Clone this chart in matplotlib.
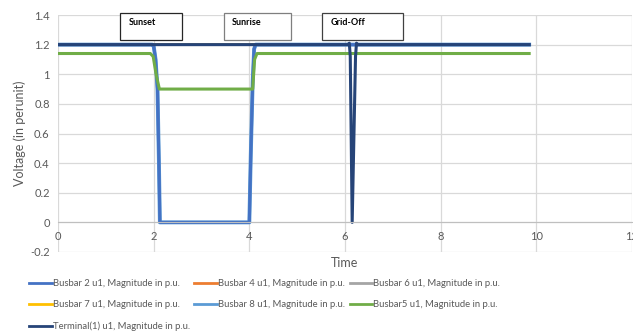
import matplotlib
matplotlib.use('Agg')
import matplotlib.pyplot as plt
from matplotlib.patches import Rectangle
from matplotlib.ticker import FuncFormatter

plt.rcParams['font.family'] = ['Lato', 'DejaVu Sans']

# series (time, voltage p.u.)
t_flat = [0, 9.85]
v_flat = [1.2, 1.2]

t_bus2 = [0, 1.97, 2.0, 2.04, 2.08, 2.11, 2.13, 4.0, 4.03, 4.07, 4.1, 4.13, 9.85]
v_bus2 = [1.2, 1.2, 1.19, 1.1, 0.9, 0.4, 0.0, 0.0, 0.45, 0.95, 1.17, 1.2, 1.2]

t_bus5 = [0, 1.93, 1.99, 2.05, 2.12, 4.07, 4.11, 4.16, 9.85]
v_bus5 = [1.14, 1.14, 1.12, 1.0, 0.9, 0.9, 1.1, 1.14, 1.14]

t_term = [0, 6.06, 6.09, 6.11, 6.15, 6.22, 6.24, 6.27, 9.85]
v_term = [1.2, 1.2, 1.21, 1.12, 0.0, 1.12, 1.21, 1.2, 1.2]

labels = ['Busbar 2 u1, Magnitude in p.u.', 'Busbar 4 u1, Magnitude in p.u.',
          'Busbar 6 u1, Magnitude in p.u.', 'Busbar 7 u1, Magnitude in p.u.',
          'Busbar 8 u1, Magnitude in p.u.', 'Busbar5 u1, Magnitude in p.u.',
          'Terminal(1) u1, Magnitude in p.u.']
colors = ['#4472C4', '#ED7D31', '#A5A5A5', '#FFC000', '#5B9BD5', '#70AD47', '#264478']

events = ['Sunset', 'Sunrise', 'Grid-Off']
box_x = [(1.30, 2.59), (3.47, 4.87), (5.52, 7.22)]
box_edge = ['#262626', '#7f7f7f', '#404040']

txt = '#595959'
grid = '#D9D9D9'

fig = plt.figure(figsize=(6.33, 3.33), dpi=100)
ax = fig.add_axes([58 / 633, 1 - 252 / 333, (632 - 58) / 633, (252 - 15) / 333])

series = [(t_bus2, v_bus2), (t_flat, v_flat), (t_flat, v_flat), (t_flat, v_flat),
          (t_bus2, v_bus2), (t_bus5, v_bus5), (t_term, v_term)]
zorders = [2.2, 1.5, 1.5, 1.5, 2.1, 2.3, 2.4]
handles = []
for (t, v), lab, c, z in zip(series, labels, colors, zorders):
    h, = ax.plot(t, v, color=c, lw=2.2, label=lab, zorder=z, snap=False,
                 solid_joinstyle='round')
    handles.append(h)
# flat busbars are hidden under the terminal trace
for i in (1, 2, 3):
    handles[i].set_linewidth(1.6)
# light blue busbar 8 sits just under busbar 2
handles[4].set_linewidth(2.8)

ax.set_xlim(0, 12)
ax.set_ylim(-0.2, 1.4)
ax.set_xticks(range(0, 13, 2))
ax.set_yticks([-0.2, 0, 0.2, 0.4, 0.6, 0.8, 1.0, 1.2, 1.4])
ax.yaxis.set_major_formatter(FuncFormatter(lambda v, p: '{:g}'.format(round(v, 1))))
ax.grid(True, color=grid, lw=0.9)
ax.set_axisbelow(True)
for s in ['top', 'right', 'left']:
    ax.spines[s].set_visible(False)
ax.spines['bottom'].set_position(('data', 0))
ax.spines['bottom'].set_color('#BFBFBF')
ax.tick_params(length=0, labelsize=8, colors=txt, pad=6)

ax.set_ylabel('Voltage (in perunit)', fontsize=9, color=txt, labelpad=3)
fig.text(345 / 633, 1 - 263 / 333, 'Time', fontsize=9, color=txt, ha='center', va='center')

for ev, (x0, x1), ec in zip(events, box_x, box_edge):
    ax.add_patch(Rectangle((x0, 1.234), x1 - x0, 0.18, fill=True, fc='white',
                           ec=ec, lw=0.9, clip_on=False, zorder=5))
    ax.text(x0 + 0.17, 1.35, ev, fontsize=6.5, fontweight='bold', color='black',
            ha='left', va='center', zorder=6, clip_on=False)

order = [0, 3, 6, 1, 4, 2, 5]
leg = fig.legend([handles[i] for i in order], [labels[i] for i in order], ncol=3,
                 loc='upper left', bbox_to_anchor=(29 / 633, 1 - 279 / 333), frameon=False,
                 fontsize=6.8, labelcolor=txt, handlelength=2.4, handletextpad=0.1,
                 columnspacing=0.5, labelspacing=1.3, borderaxespad=0, borderpad=0)
for ln in leg.get_lines():
    ln.set_linewidth(2.0)

fig.savefig('out.png', dpi=100)
